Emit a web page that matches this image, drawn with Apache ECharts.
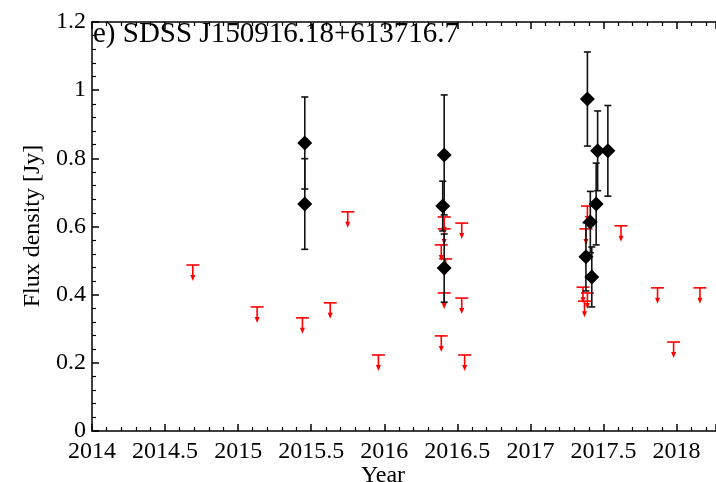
<!DOCTYPE html>
<html>
<head>
<meta charset="utf-8">
<script src="https://cdn.jsdelivr.net/npm/echarts@6/dist/echarts.min.js"></script>
<style>
html,body{margin:0;padding:0;background:#fff;}
#c{width:716px;height:482px;}
</style>
</head>
<body>
<div id="c"></div>
<script>
// Detections (black diamonds with 1-sigma error bars)
var detYear = [2015.456, 2015.456, 2016.41, 2016.40, 2016.41, 2017.39, 2017.46, 2017.53, 2017.45, 2017.41, 2017.38, 2017.42];
var detFlux = [0.845, 0.666, 0.81, 0.66, 0.478, 0.974, 0.822, 0.822, 0.666, 0.613, 0.511, 0.452];
var detErr  = [0.135, 0.133, 0.176, 0.073, 0.100, 0.138, 0.117, 0.133, 0.120, 0.090, 0.100, 0.088];

// Upper limits (red)
var limYear = [2014.69, 2015.13, 2015.44, 2015.63, 2015.75, 2015.96,
               2016.41, 2016.53, 2016.41, 2016.39, 2016.42, 2016.41, 2016.53, 2016.39, 2016.55,
               2017.39, 2017.38, 2017.62, 2017.36, 2017.39, 2017.37, 2017.87, 2018.16, 2017.98];
var limFlux = [0.487, 0.364, 0.332, 0.376, 0.643, 0.223,
               0.628, 0.610, 0.593, 0.546, 0.505, 0.405, 0.390, 0.279, 0.223,
               0.660, 0.593, 0.602, 0.422, 0.405, 0.381, 0.420, 0.420, 0.261];

var xTicks = {min: 2014, max: 2018.27, interval: 0.5};
var yTicks = {min: 0, max: 1.2, interval: 0.2};

var titleText = 'e) SDSS J150916.18+613716.7';
var xName = 'Year';
var yName = 'Flux density [Jy]';

var detData = detYear.map(function (x, i) { return [x, detFlux[i], detErr[i]]; });
var limData = limYear.map(function (x, i) { return [x, limFlux[i]]; });

var FONT = '"Liberation Serif", "DejaVu Serif", serif';
var chart = echarts.init(document.getElementById('c'), null, {renderer: 'canvas'});

function plainNum(v) { return String(Math.round(v * 1000) / 1000); }

function xAxisCfg(pos, labels) {
  return {
    type: 'value', position: pos, min: xTicks.min, max: xTicks.max, interval: xTicks.interval,
    axisLine: {show: true, onZero: false, lineStyle: {color: '#000', width: 1.5}},
    axisTick: {show: true, inside: true, length: 7, lineStyle: {color: '#000', width: 1.5}},
    minorTick: {show: true, splitNumber: 5, length: 4, lineStyle: {color: '#000', width: 1.2}},
    splitLine: {show: false},
    axisLabel: {show: labels, showMaxLabel: false, margin: 9, color: '#000', fontFamily: FONT, fontSize: 24, formatter: plainNum}
  };
}

var option = {
  animation: false,
  backgroundColor: '#fff',
  grid: {left: 92, right: 0, top: 22, bottom: 51, containLabel: false},
  xAxis: [xAxisCfg('bottom', true), xAxisCfg('top', false)],
  yAxis: {
    type: 'value', min: yTicks.min, max: yTicks.max, interval: yTicks.interval,
    axisLine: {show: true, onZero: false, lineStyle: {color: '#000', width: 1.5}},
    axisTick: {show: true, inside: true, length: 7, lineStyle: {color: '#000', width: 1.5}},
    minorTick: {show: true, splitNumber: 5, length: 4, lineStyle: {color: '#000', width: 1.2}},
    splitLine: {show: false},
    axisLabel: {margin: 6, color: '#000', fontFamily: FONT, fontSize: 24, formatter: plainNum}
  },
  graphic: [
    {type: 'text', left: 93, top: 20, style: {text: titleText, font: '29px ' + FONT, fill: '#000'}, z: 100},
    {type: 'text', x: 383, y: 464, style: {text: xName, font: '24px ' + FONT, fill: '#000', textAlign: 'center', textVerticalAlign: 'top'}},
    {type: 'text', x: 33, y: 226, rotation: Math.PI / 2, style: {text: yName, font: '24px ' + FONT, fill: '#000', textAlign: 'center', textVerticalAlign: 'middle'}}
  ],
  series: [
    {
      type: 'custom', xAxisIndex: 0, yAxisIndex: 0, data: limData, z: 2,
      renderItem: function (params, api) {
        var p = api.coord([api.value(0), api.value(1)]);
        var x = p[0], y = p[1];
        var st = {stroke: '#ff0000', lineWidth: 1.6};
        return {
          type: 'group',
          children: [
            {type: 'line', shape: {x1: x - 6.5, y1: y, x2: x + 6.5, y2: y}, style: st},
            {type: 'line', shape: {x1: x, y1: y, x2: x, y2: y + 11}, style: st},
            {type: 'polygon', shape: {points: [[x - 2.5, y + 10], [x + 2.5, y + 10], [x, y + 16]]}, style: {fill: '#ff0000'}}
          ]
        };
      }
    },
    {
      type: 'custom', xAxisIndex: 0, yAxisIndex: 0, data: detData, z: 3,
      renderItem: function (params, api) {
        var xv = api.value(0), yv = api.value(1), e = api.value(2);
        var top = api.coord([xv, yv + e]);
        var bot = api.coord([xv, yv - e]);
        var st = {stroke: '#111', lineWidth: 1.6};
        return {
          type: 'group',
          children: [
            {type: 'line', shape: {x1: top[0], y1: top[1], x2: bot[0], y2: bot[1]}, style: st},
            {type: 'line', shape: {x1: top[0] - 3.5, y1: top[1], x2: top[0] + 3.5, y2: top[1]}, style: st},
            {type: 'line', shape: {x1: bot[0] - 3.5, y1: bot[1], x2: bot[0] + 3.5, y2: bot[1]}, style: st}
          ]
        };
      }
    },
    {
      type: 'scatter', xAxisIndex: 0, yAxisIndex: 0, z: 4,
      data: detData.map(function (d) { return [d[0], d[1]]; }),
      symbol: 'diamond', symbolSize: [15, 15],
      itemStyle: {color: '#000', opacity: 1}
    }
  ]
};
chart.setOption(option);
</script>
</body>
</html>
